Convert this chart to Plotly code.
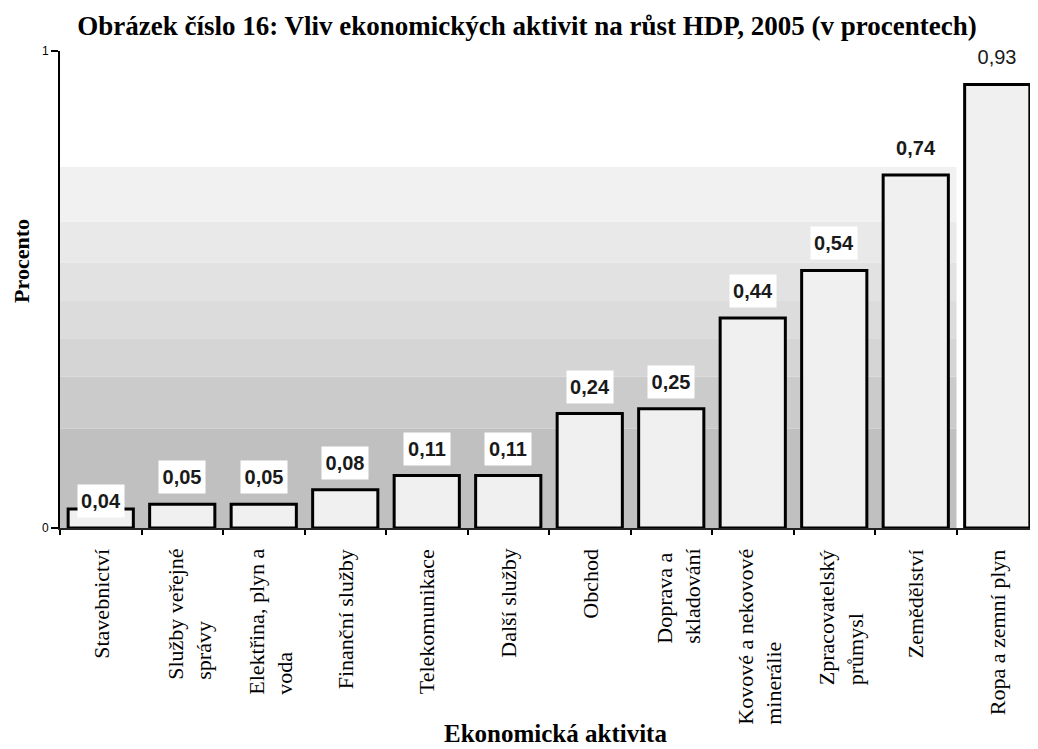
import plotly.graph_objects as go

categories = [
    "Stavebnictví",
    "Služby veřejné<br>správy",
    "Elektřina, plyn a<br>voda",
    "Finanční služby",
    "Telekomunikace",
    "Další služby",
    "Obchod",
    "Doprava a<br>skladování",
    "Kovové a nekovové<br>minerálie",
    "Zpracovatelský<br>průmysl",
    "Zemědělství",
    "Ropa a zemní plyn",
]
values = [0.04, 0.05, 0.05, 0.08, 0.11, 0.11, 0.24, 0.25, 0.44, 0.54, 0.74, 0.93]
value_labels = ["0,04", "0,05", "0,05", "0,08", "0,11", "0,11", "0,24", "0,25", "0,44", "0,54", "0,74", "0,93"]
y_tick_vals = [0, 1]
y_tick_text = ["0", "1"]

title_text = "Obrázek číslo 16: Vliv ekonomických aktivit na růst HDP, 2005 (v procentech)"
x_title = "Ekonomická aktivita"
y_title = "Procento"

# style: background gradient bands (in axis units) and their colours
band_edges = [0, 0.208, 0.317, 0.398, 0.476, 0.556, 0.642, 0.757]
band_colors = ["#c0c0c0", "#cbcbcb", "#d5d5d5", "#dcdcdc", "#e2e2e2", "#e9e9e9", "#f1f1f1"]
label_yshift = [-9] + [10] * 11
label_bold = [True] * 11 + [False]

SERIF = "Liberation Serif, Times New Roman, serif"
SANS = "Liberation Sans, Arial, sans-serif"

# the page body adds an 8px offset; the figure is sized to fill the rest of the window
FIG_W, FIG_H = 1030, 741

x_idx = list(range(len(categories)))

fig = go.Figure()
fig.add_trace(go.Bar(
    x=x_idx, y=values, width=0.8,
    marker=dict(color="#f0f0f0", line=dict(color="black", width=3)),
    hoverinfo="skip",
))

shapes = []
for i, c in enumerate(band_colors):
    shapes.append(dict(type="rect", xref="x", yref="y", x0=-0.5, x1=len(categories) - 1.5,
                       y0=band_edges[i], y1=band_edges[i + 1], fillcolor=c,
                       line=dict(width=0), layer="below"))

annotations = []
for i, (v, t) in enumerate(zip(values, value_labels)):
    txt = f"<b>{t}</b>" if label_bold[i] else t
    annotations.append(dict(x=i, y=v, xref="x", yref="y", text=txt, showarrow=False,
                            yanchor="bottom", yshift=label_yshift[i], bgcolor="white",
                            width=44, height=30, borderpad=1,
                            font=dict(family=SANS, size=20, color="#1a1a1a")))
for i, cat in enumerate(categories):
    annotations.append(dict(x=i, y=0, xref="x", yref="paper", text=cat, showarrow=False,
                            textangle=-90, align="left", xanchor="center", yanchor="top",
                            yshift=-19, xshift=7 if "<br>" in cat else 0,
                            font=dict(family=SERIF, size=22, color="black")))
annotations.append(dict(x=0, y=0.56, xref="paper", yref="paper", text=f"<b>{y_title}</b>",
                        showarrow=False, textangle=-90, xanchor="center", yanchor="middle",
                        xshift=-38, font=dict(family=SERIF, size=22, color="black")))
annotations.append(dict(x=0.507, y=-0.43, xref="paper", yref="paper", text=f"<b>{x_title}</b>",
                        showarrow=False, xanchor="center", yanchor="middle",
                        font=dict(family=SERIF, size=25, color="black")))

fig.update_layout(
    width=FIG_W, height=FIG_H,
    margin=dict(l=52, r=0, t=43, b=221),
    paper_bgcolor="white", plot_bgcolor="white",
    showlegend=False,
    title=dict(text=f"<b>{title_text}</b>", x=519 / FIG_W, xanchor="center",
               y=1 - 18 / FIG_H, yanchor="middle", font=dict(family=SERIF, size=27, color="black")),
    shapes=shapes,
    annotations=annotations,
    xaxis=dict(range=[-0.5, len(categories) - 0.5], tickvals=[i + 0.5 for i in range(-1, len(categories))],
               showticklabels=False, ticks="outside", ticklen=5, tickwidth=1.5, tickcolor="black",
               showline=True, linecolor="#222", linewidth=2, showgrid=False, zeroline=False, fixedrange=True),
    yaxis=dict(range=[0, 1], tickvals=y_tick_vals, ticktext=y_tick_text, ticks="outside", ticklen=7,
               tickwidth=1.5, tickcolor="black", showline=True, linecolor="black", linewidth=2,
               showgrid=False, zeroline=False, tickfont=dict(family=SANS, size=12, color="black")),
)

fig.write_html("out.html")
